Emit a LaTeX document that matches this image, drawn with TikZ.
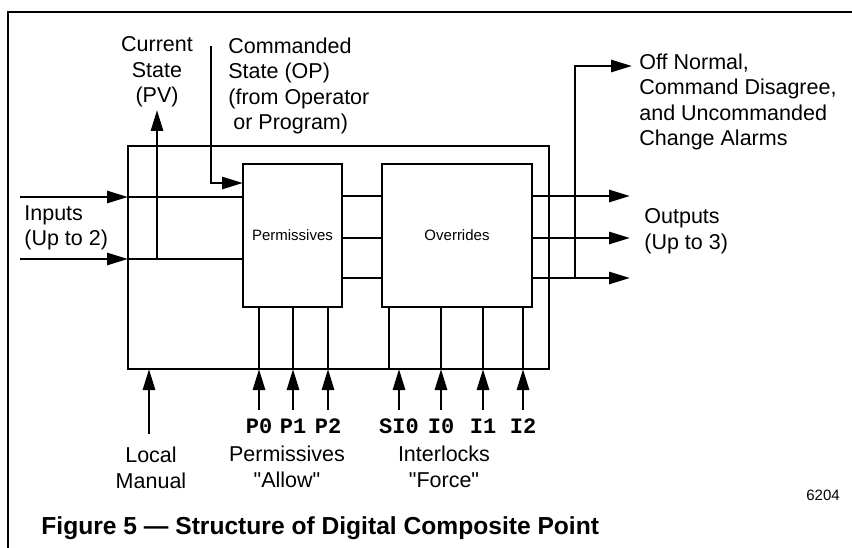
\documentclass[tikz,border=0pt]{standalone}
\usepackage{fontspec}
\setmainfont{Liberation Sans}
\setmonofont{Liberation Mono}
\usetikzlibrary{arrows.meta}
\begin{document}
\begin{tikzpicture}[x=1pt,y=-1pt,line width=2.8pt,
  arr/.style={-{Triangle[length=21pt,width=12pt]}},
  box/.style={draw,rectangle,inner sep=0pt,outer sep=0pt},
  lbl/.style={inner sep=0pt,font=\fontsize{21.5}{25.5}\selectfont},
  sml/.style={inner sep=0pt,font=\fontsize{15}{18}\selectfont},
  mono/.style={inner sep=0pt,anchor=base,font=\fontsize{22}{26}\selectfont\ttfamily\bfseries}]
\useasboundingbox (0,0) rectangle (852,548);
% frame
\coordinate (fbl) at (8,549);
\coordinate (ftl) at (8,12);
\coordinate (ftr) at (853,12);
\draw (fbl) -- (ftl) -- (ftr);
% boxes
\node[box,minimum width=421pt,minimum height=223pt] (outer) at (338.5,257.5) {};
\node[box,minimum width=99pt,minimum height=143pt] (perm) at (292.5,235.5) {};
\node[box,minimum width=150pt,minimum height=143pt] (over) at (457,235.5) {};
\node[sml] (permtxt) at (perm.center) {Permissives};
\node[sml] (overtxt) at (over.center) {Overrides};
% inputs
\coordinate (inA) at (20,197);
\coordinate (inB) at (20,259);
\draw[arr] (inA) -- (inA -| outer.west);
\draw (inA -| outer.west) -- (inA -| perm.west);
\draw[arr] (inB) -- (inB -| outer.west);
\draw (inB -| outer.west) -- (inB -| perm.west);
% current state
\coordinate (pv) at (157,110);
\draw[arr] (pv |- inB) -- (pv);
% commanded state
\coordinate (op) at (211,46);
\draw[arr] (op) |- ([yshift=-19pt]perm.north west);
% between boxes
\foreach \yy in {196,238,278}{
  \draw (perm.east |- 0,\yy) -- (over.west |- 0,\yy);
}
% outputs
\coordinate (out1) at (630,196);
\coordinate (out2) at (630,238);
\coordinate (out3) at (630,278);
\draw[arr] (over.east |- out1) -- (out1);
\draw[arr] (over.east |- out2) -- (out2);
\draw[arr] (over.east |- out3) -- (out3);
% alarms
\coordinate (albase) at (575,278);
\coordinate (al) at (632,66);
\draw[arr] (albase) |- (al);
% bottom inputs
\coordinate (lm) at (149,434);
\draw[arr] (lm) -- (lm |- outer.south);
\foreach \xx/\nm in {259/p0,293/p1,328/p2,441/i0,483/i1,523/i2}{
  \coordinate (\nm) at (\xx,410);
  \draw[arr] (\nm) -- (\nm |- outer.south);
}
\foreach \nm in {p0,p1,p2}{
  \draw (\nm |- outer.south) -- (\nm |- perm.south);
}
\foreach \nm in {i0,i1,i2}{
  \draw (\nm |- outer.south) -- (\nm |- over.south);
}
\coordinate (si0) at (399,410);
\coordinate (si0in) at (389,369);
\draw[arr] (si0) -- (si0 |- outer.south);
\draw (si0in) -- (si0in |- over.south);
% labels
\node[lbl,align=center] (curlbl) at (157,72) {Current\\State\\(PV)};
\node[lbl,align=left,anchor=west] (cmdlbl) at (227,86) {Commanded\\State (OP)\\(from Operator\\\hspace*{5pt}or Program)};
\node[lbl,align=left,anchor=west] (allbl) at (638,102) {Off Normal,\\Command Disagree,\\and Uncommanded\\Change Alarms};
\node[lbl,align=left,anchor=west] (outlbl) at (643,231) {Outputs\\(Up to 3)};
\node[lbl,align=left,anchor=west] (inlbl) at (23,228) {Inputs\\(Up to 2)};
\node[lbl,align=center] (lmlbl) at (151,468) {Local\\Manual};
\node[lbl,align=center] (plbl) at (287,467) {Permissives\\\textquotedbl Allow\textquotedbl};
\node[lbl,align=center] (ilbl) at (444,467) {Interlocks\\\textquotedbl Force\textquotedbl};
\node[mono] (p0t) at (259,433) {P0};
\node[mono] (p1t) at (293,433) {P1};
\node[mono] (p2t) at (328,433) {P2};
\node[mono] (si0t) at (399,433) {SI0};
\node[mono] (i0t) at (441,433) {I0};
\node[mono] (i1t) at (483,433) {I1};
\node[mono] (i2t) at (523,433) {I2};
\node[sml] (num) at (823,495) {6204};
\node[inner sep=0pt,anchor=base west,font=\fontsize{24.6}{28}\selectfont\bfseries] (title) at (40,534) {Figure 5 — Structure of Digital Composite Point};
\end{tikzpicture}
\end{document}
